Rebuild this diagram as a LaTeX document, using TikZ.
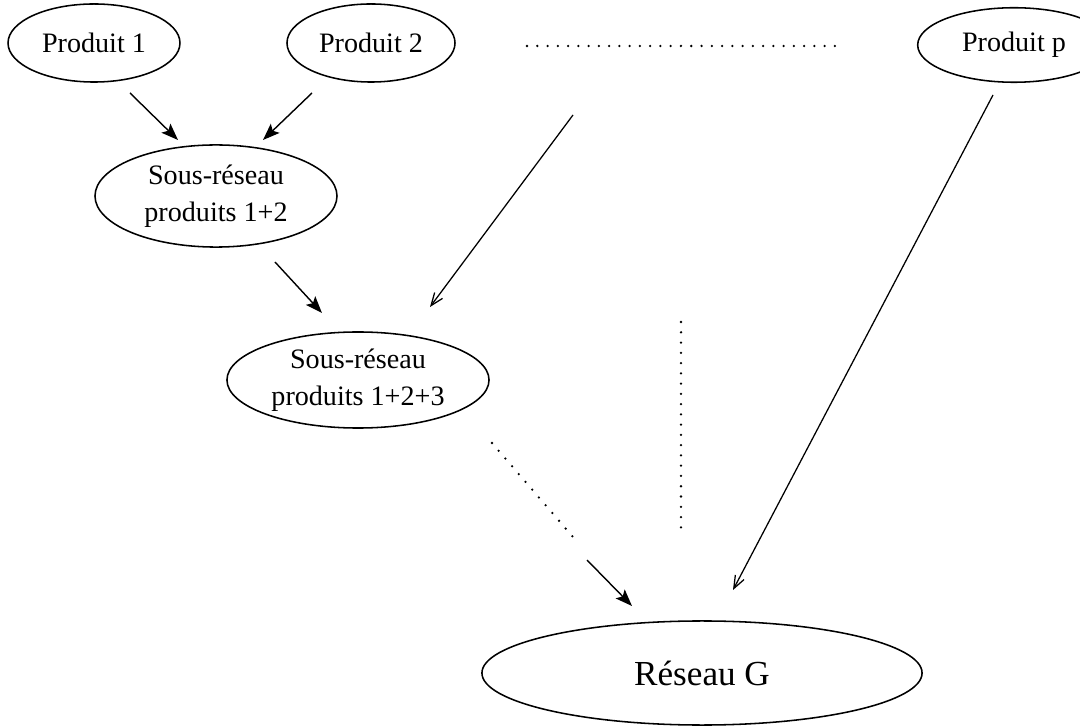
\documentclass[tikz,border=0pt]{standalone}
\usepackage{fontspec}
\setmainfont{Liberation Serif}
\usetikzlibrary{shapes.geometric,arrows.meta}

\begin{document}
\begin{tikzpicture}[x=0.025cm,y=-0.025cm,
  oval/.style={draw, ellipse, inner sep=0pt, line width=1.1pt, align=center,
    font=\fontsize{20}{26}\selectfont},
  solidarrow/.style={line width=1pt, -{Stealth[length=12pt,width=9pt,inset=2.5pt]}},
  openarrow/.style={line width=0.9pt, -{Straight Barb[length=9pt,width=7pt]}},
  dotline/.style={line width=1.8pt, line cap=round, dash pattern=on 0pt off 7.3pt}]
\clip (0,0) rectangle (1080,727);
\fill[white] (0,0) rectangle (1080,727);

% products
\node[oval, minimum width=122.3pt, minimum height=55.5pt] (p1) at (94,43) {Produit 1};
\node[oval, minimum width=119.5pt, minimum height=55.5pt] (p2) at (371,43) {Produit 2};
\node[oval, minimum width=137pt, minimum height=53pt] (pp) at (1014,45) {Produit p};

% sub-networks
\node[oval, minimum width=172.1pt, minimum height=72.6pt] (sr12) at (216,196) {Sous-réseau\\produits 1+2};
\node[oval, minimum width=186.4pt, minimum height=68.3pt] (sr123) at (358,380) {Sous-réseau\\produits 1+2+3};

% full network
\node[oval, minimum width=313pt, minimum height=74pt, font=\fontsize{25}{30}\selectfont] (g) at (702,673) {Réseau G};

% connector end points
\coordinate (p1out) at (130,93);
\coordinate (sr12inA) at (178,140);
\coordinate (p2out) at (312,93);
\coordinate (sr12inB) at (263,140);
\coordinate (sr12out) at (275,262);
\coordinate (sr123inA) at (322,313);
\coordinate (p3out) at (573,115);
\coordinate (sr123inB) at (430,307);
\coordinate (ppout) at (993,95);
\coordinate (ginA) at (733,590);
\coordinate (sr123out) at (492,443);
\coordinate (dotend) at (573,537);
\coordinate (laststep) at (587,560);
\coordinate (ginB) at (632,606);
\coordinate (rowA) at (527,46);
\coordinate (rowB) at (840,46);
\coordinate (colA) at (681,322);
\coordinate (colB) at (681,535);

% arrows
\draw[solidarrow] (p1out) -- (sr12inA);
\draw[solidarrow] (p2out) -- (sr12inB);
\draw[solidarrow] (sr12out) -- (sr123inA);
\draw[openarrow] (p3out) -- (sr123inB);
\draw[openarrow] (ppout) -- (ginA);
\draw[solidarrow] (laststep) -- (ginB);

% dotted continuations
\draw[dotline] (rowA) -- (rowB);
\draw[dotline] (colA) -- (colB);
\draw[dotline] (sr123out) -- (dotend);
\end{tikzpicture}
\end{document}
